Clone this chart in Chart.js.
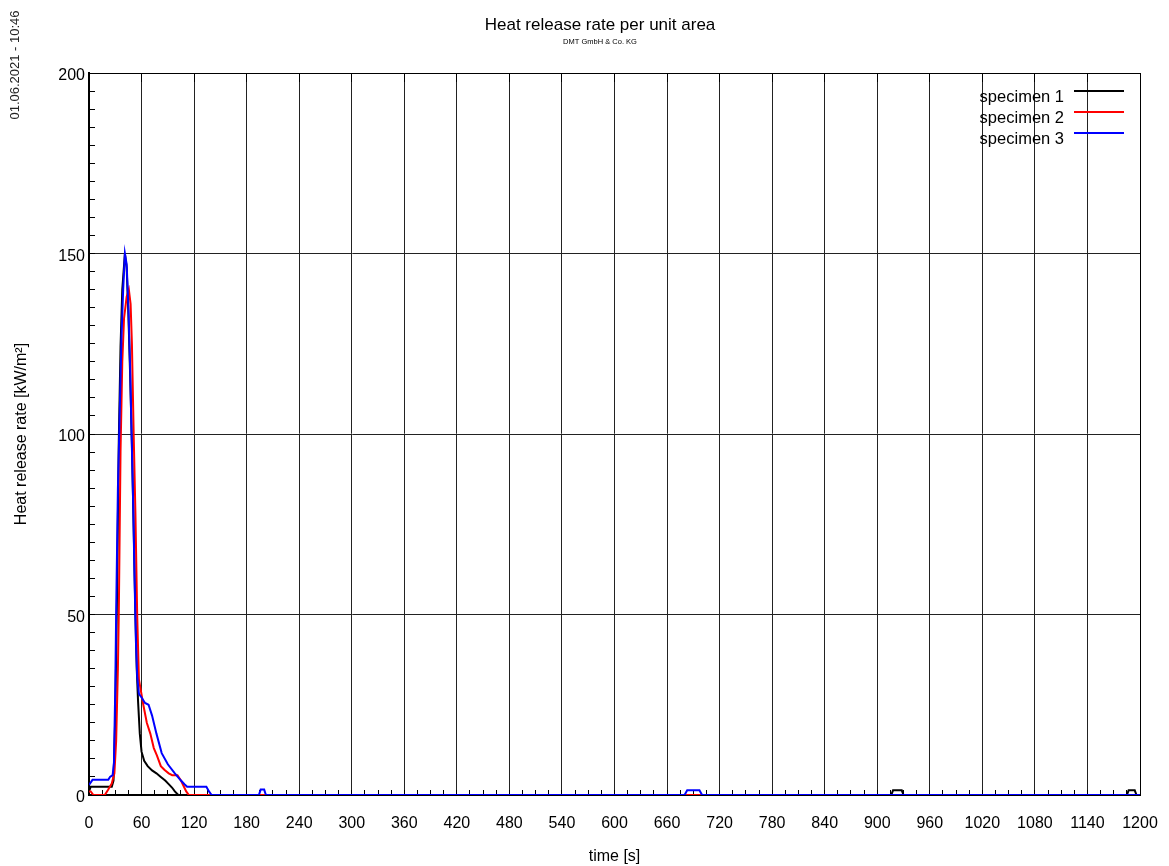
<!DOCTYPE html>
<html lang="en">
<head>
<meta charset="utf-8">
<title>Heat release rate per unit area</title>
<script src="https://cdn.jsdelivr.net/npm/chart.js@4.4.1/dist/chart.umd.min.js"></script>
<style>
  body { margin: 0; background: #fff; }
  #wrap { width: 1169px; height: 866px; }
</style>
</head>
<body>
<div id="wrap"><canvas id="hrrChart"></canvas></div>
<script>
// texts
const chartTitle = 'Heat release rate per unit area';
const chartSubtitle = 'DMT GmbH & Co. KG';
const stamp = '01.06.2021 - 10:46';
const seriesNames = ['specimen 1', 'specimen 2', 'specimen 3'];

// specimen 1 - time [s] / HRR [kW/m²]
const time1 = [0, 2, 26, 28, 30, 32, 34, 36, 38, 41, 43, 45, 47, 49, 51, 53, 54.5, 56, 58, 60,
               63, 67, 72, 77, 82, 87, 91, 95, 98, 102, 916, 918, 928, 930, 1185, 1187, 1194, 1196, 1200];
const hrr1 = [1, 2.3, 2.3, 4, 22, 55, 98, 124, 140, 150, 146, 133, 116, 97, 74, 50, 35, 26, 17, 12,
              9.5, 8, 6.8, 6, 5, 4, 3, 2, 1, 0, 0, 1.3, 1.3, 0, 0, 1.3, 1.3, 0, 0];

// specimen 2
const time2 = [0, 2, 5, 18, 22, 26, 29, 31, 33, 34, 36, 38, 40, 43, 45.5, 47.5, 49, 51, 53, 55, 57,
               62, 66, 70, 74, 77.5, 82, 86, 91, 95, 101, 105, 108, 111, 114, 1200];
const hrr2 = [1, 1, 0, 0, 1.5, 3.2, 6, 15, 35, 50, 95, 120, 132, 138, 140, 136, 125, 100, 78, 50, 32,
              25, 20, 17, 13, 11, 8, 7, 6, 5.5, 5.5, 4, 2.5, 1, 0, 0];

// specimen 3
const time3 = [0, 4, 22, 24, 27, 28.5, 30, 31, 33, 34.5, 37, 39, 41, 43, 45, 47, 48.7, 50.5, 52, 53.5,
               55, 57, 60, 64, 68, 72, 77, 83, 90, 98, 105, 109, 112, 134, 137, 140, 194, 196, 200, 202,
               680, 683, 697, 700, 1200];
const hrr3 = [2.8, 4.2, 4.2, 5, 5.5, 9, 30, 50, 85, 100, 126, 140, 150, 147, 135, 118, 99, 80, 60, 43,
              33, 28, 27, 25.5, 25, 22, 17, 11.6, 8.5, 6, 4, 3, 2.3, 2.3, 1, 0, 0, 1.5, 1.5, 0,
              0, 1.3, 1.3, 0, 0];

// axes
const xMin = 0, xMax = 1200, xMajor = 60, xMinor = 15;
const yMin = 0, yMax = 200, yMajor = 50, yMinor = 5;

const FONT = "'Liberation Sans', Arial, Helvetica, sans-serif";
Chart.defaults.font.family = FONT;
Chart.defaults.color = '#000';

function toPoints(xs, ys) {
    return xs.map((x, i) => ({ x: x, y: ys[i] }));
}

const gridDots = '#222';

// title, time stamp and the legend with the line sample on the right
const decorPlugin = {
    id: 'decor',
    afterDraw(chart) {
        const ctx = chart.ctx;
        ctx.save();
        ctx.fillStyle = '#000';
        ctx.textAlign = 'center';
        ctx.textBaseline = 'middle';
        ctx.font = '17px ' + FONT;
        ctx.fillText(chartTitle, 600, 25);
        ctx.font = '7.5px ' + FONT;
        ctx.fillText(chartSubtitle, 600, 42);

        ctx.save();
        ctx.translate(15, 65);
        ctx.rotate(-Math.PI / 2);
        ctx.font = '13px ' + FONT;
        ctx.fillStyle = '#222';
        ctx.fillText(stamp, 0, 0);
        ctx.restore();

        ctx.font = '16.5px ' + FONT;
        ctx.textAlign = 'right';
        chart.data.datasets.forEach((ds, i) => {
            const ty = 97 + i * 21;
            ctx.fillStyle = '#000';
            ctx.fillText(ds.label, 1064, ty);
            ctx.strokeStyle = ds.borderColor;
            ctx.lineWidth = 2;
            ctx.beginPath();
            ctx.moveTo(1074, ty - 6);
            ctx.lineTo(1124, ty - 6);
            ctx.stroke();
        });
        ctx.restore();
    }
};

const ctx = document.getElementById('hrrChart').getContext('2d');
const hrrChart = new Chart(ctx, {
    type: 'line',
    data: {
        datasets: [
            { label: seriesNames[0], data: toPoints(time1, hrr1), borderColor: '#000000', order: 2 },
            { label: seriesNames[1], data: toPoints(time2, hrr2), borderColor: '#ff0000', order: 1 },
            { label: seriesNames[2], data: toPoints(time3, hrr3), borderColor: '#0000ff', order: 0 }
        ]
    },
    options: {
        responsive: true,
        maintainAspectRatio: false,
        animation: false,
        parsing: false,
        elements: {
            line: { borderWidth: 2, tension: 0, fill: false },
            point: { radius: 0 }
        },
        layout: { padding: { top: 73, right: 29, left: 0, bottom: 0 } },
        plugins: {
            legend: { display: false },
            tooltip: { enabled: false }
        },
        scales: {
            x: {
                type: 'linear',
                position: 'bottom',
                min: xMin,
                max: xMax,
                weight: 1,
                ticks: {
                    stepSize: xMinor,
                    autoSkip: false,
                    maxRotation: 0,
                    minRotation: 0,
                    padding: 24,
                    font: { size: 16 },
                    callback: (v) => (v % xMajor === 0 ? v : '')
                },
                grid: {
                    color: (c) => (c.tick && c.tick.value % xMajor === 0 ? gridDots : 'rgba(0,0,0,0)'),
                    borderDash: [1, 2],
                    tickColor: '#000',
                    tickLength: -5,
                    tickBorderDash: []
                },
                border: { color: '#000', width: 2 },
                title: { display: true, text: 'time [s]', font: { size: 16 }, padding: { top: 0, bottom: 0 } },
                afterFit: (scale) => {
                    scale.height = 71;
                    scale.paddingLeft = 0;
                    scale.paddingRight = 0;
                }
            },
            y: {
                type: 'linear',
                position: 'left',
                min: yMin,
                max: yMax,
                ticks: {
                    stepSize: yMinor,
                    autoSkip: false,
                    padding: 10,
                    labelOffset: 3,
                    font: { size: 16 },
                    callback: (v) => (v % yMajor === 0 ? v : '')
                },
                grid: {
                    color: (c) => (c.tick && c.tick.value % yMajor === 0 && c.tick.value !== 0 ? gridDots : 'rgba(0,0,0,0)'),
                    borderDash: [1, 2],
                    tickColor: '#000',
                    tickLength: -6,
                    tickBorderDash: []
                },
                border: { color: '#000', width: 2 },
                title: { display: true, text: 'Heat release rate [kW/m²]', font: { size: 16 }, padding: { top: 12, bottom: 0 } },
                afterFit: (scale) => {
                    scale.width = 89;
                    scale.paddingTop = 0;
                    scale.paddingBottom = 0;
                }
            },
            xTop: {
                type: 'linear',
                position: 'top',
                min: xMin,
                max: xMax,
                ticks: { display: false, stepSize: xMajor },
                grid: { drawOnChartArea: false, tickLength: -9, color: '#000' },
                border: { color: '#000', width: 1 },
                afterFit: (scale) => { scale.height = 0; scale.paddingLeft = 0; scale.paddingRight = 0; }
            },
            yRight: {
                type: 'linear',
                position: 'right',
                min: yMin,
                max: yMax,
                ticks: { display: false },
                grid: { drawOnChartArea: false, drawTicks: false },
                border: { color: '#000', width: 1 },
                afterFit: (scale) => { scale.width = 0; }
            }
        }
    },
    plugins: [decorPlugin]
});
</script>
</body>
</html>
